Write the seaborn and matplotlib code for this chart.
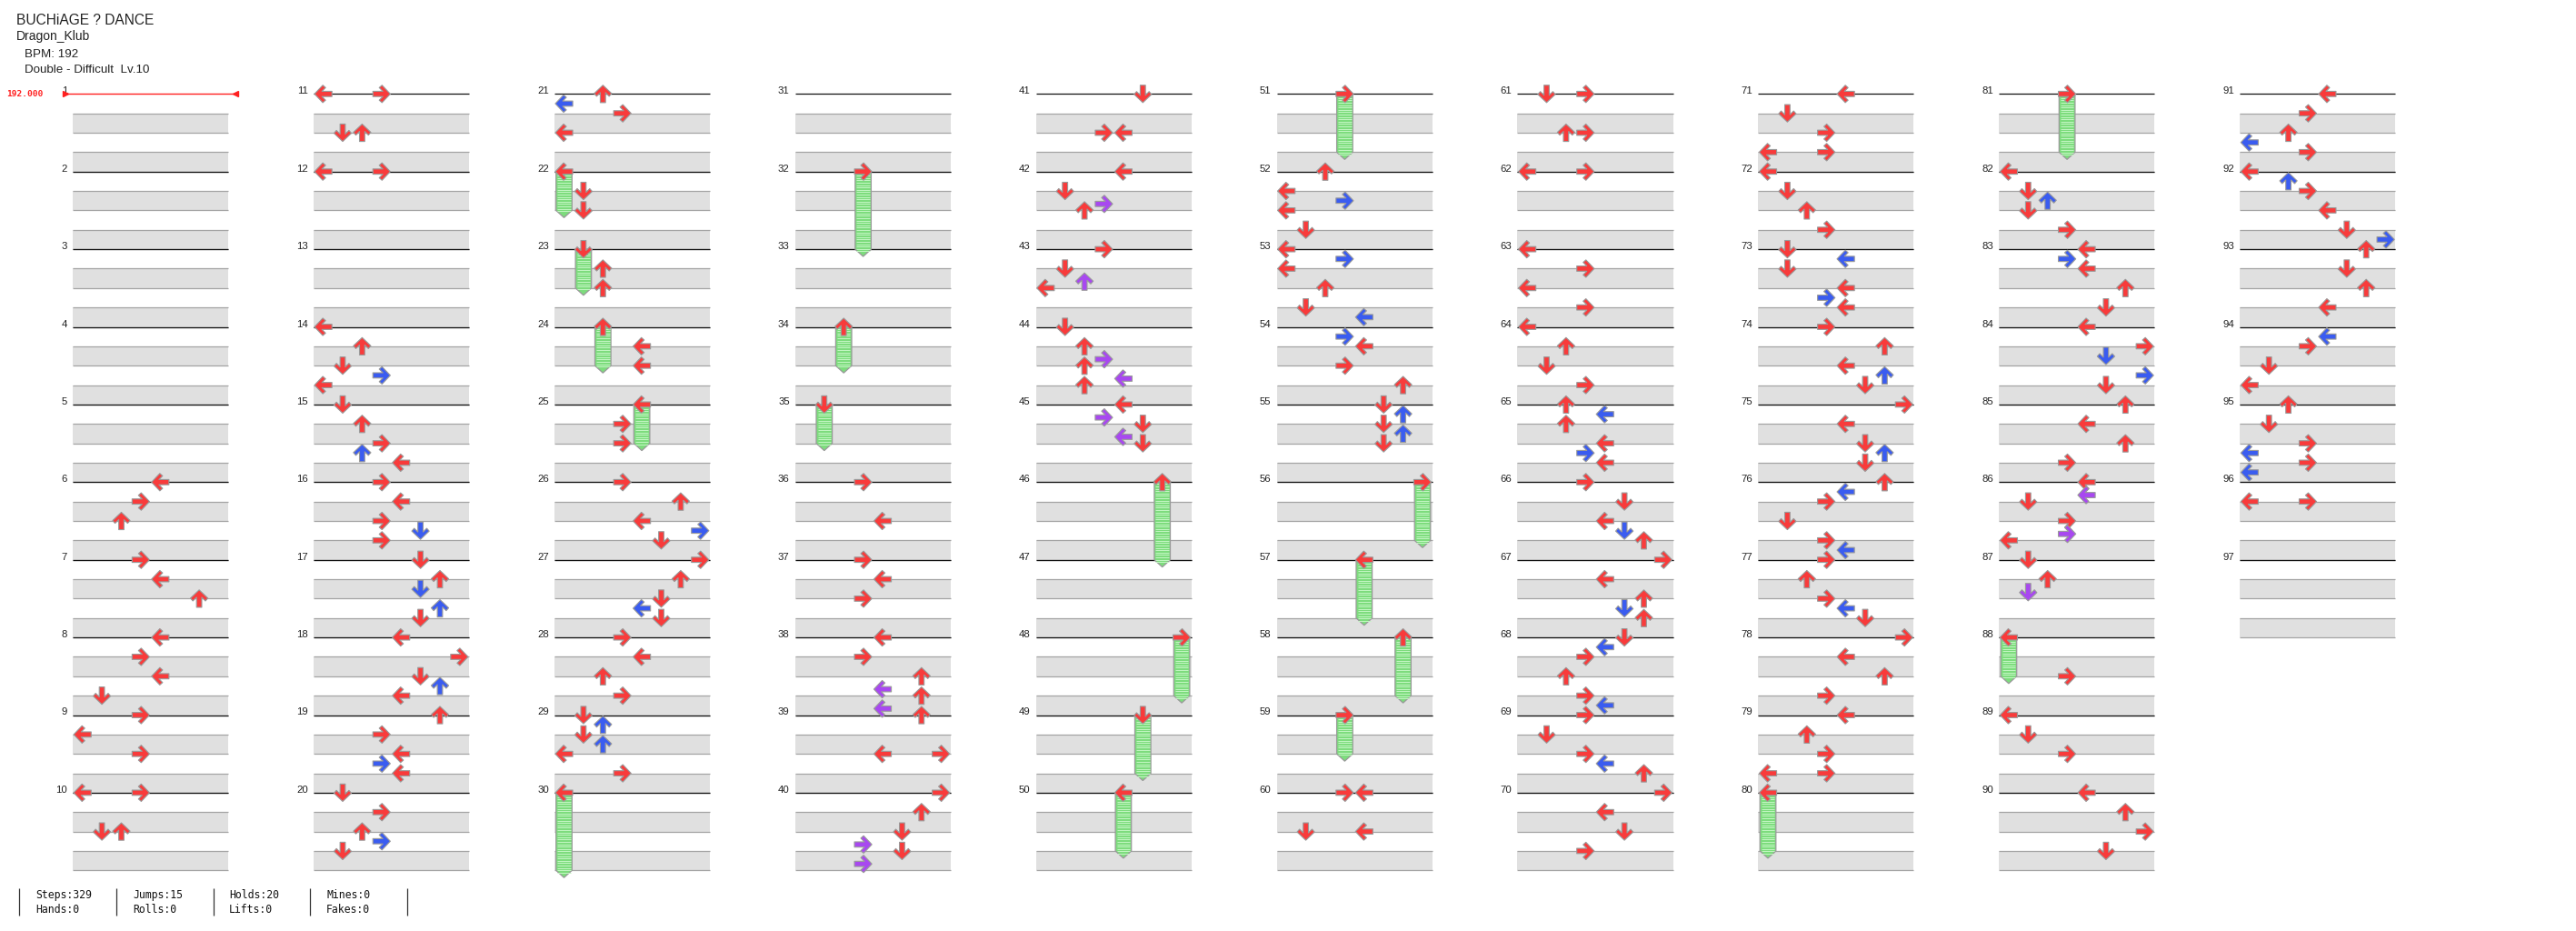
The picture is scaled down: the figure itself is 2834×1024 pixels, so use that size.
import numpy as np
import pandas as pd
import matplotlib
matplotlib.use("Agg")
import matplotlib.pyplot as plt
import seaborn as sns
from matplotlib.path import Path

# header / footer text
song_title = "BUCHiAGE ? DANCE"
song_artist = "Dragon_Klub"
song_bpm = "BPM: 192"
chart_name = "Double - Difficult  Lv.10"
bpm_label = "192.000"
stats_row1 = ["Steps:329", "Jumps:15", "Holds:20", "Mines:0"]
stats_row2 = ["Hands:0", "Rolls:0", "Lifts:0", "Fakes:0"]
n_measures = 97

# lanes 0-7: P1 L D U R, P2 L D U R
lane_dirs = ["L", "D", "U", "R", "L", "D", "U", "R"]

# taps: (measure, beat inside measure, lane)
taps_01_10 = [
    (6, 0, 4), (6, 1, 3), (6, 2, 2),
    (7, 0, 3), (7, 1, 4), (7, 2, 6),
    (8, 0, 4), (8, 1, 3), (8, 2, 4), (8, 3, 1),
    (9, 0, 3), (9, 1, 0), (9, 2, 3),
    (10, 0, 0), (10, 0, 3), (10, 2, 1), (10, 2, 2),
]
taps_11_20 = [
    (11, 0, 0), (11, 0, 3), (11, 2, 1), (11, 2, 2),
    (12, 0, 0), (12, 0, 3),
    (14, 0, 0), (14, 1, 2), (14, 2, 1), (14, 2.5, 3), (14, 3, 0),
    (15, 0, 1), (15, 1, 2), (15, 2, 3), (15, 2.5, 2), (15, 3, 4),
    (16, 0, 3), (16, 1, 4), (16, 2, 3), (16, 2.5, 5), (16, 3, 3),
    (17, 0, 5), (17, 1, 6), (17, 1.5, 5), (17, 2.5, 6), (17, 3, 5),
    (18, 0, 4), (18, 1, 7), (18, 2, 5), (18, 2.5, 6), (18, 3, 4),
    (19, 0, 6), (19, 1, 3), (19, 2, 4), (19, 2.5, 3), (19, 3, 4),
    (20, 0, 1), (20, 1, 3), (20, 2, 2), (20, 2.5, 3), (20, 3, 1),
]
taps_21_30 = [
    (21, 0, 2), (21, 0.5, 0), (21, 1, 3), (21, 2, 0),
    (22, 1, 1), (22, 2, 1),
    (23, 1, 2), (23, 2, 2),
    (24, 1, 4), (24, 2, 4),
    (25, 1, 3), (25, 2, 3),
    (26, 0, 3), (26, 1, 6), (26, 2, 4), (26, 2.5, 7), (26, 3, 5),
    (27, 0, 7), (27, 1, 6), (27, 2, 5), (27, 2.5, 4), (27, 3, 5),
    (28, 0, 3), (28, 1, 4), (28, 2, 2), (28, 3, 3),
    (29, 0, 1), (29, 0.5, 2), (29, 1, 1), (29, 1.5, 2), (29, 2, 0), (29, 3, 3),
]
taps_31_40 = [
    (36, 0, 3), (36, 2, 4),
    (37, 0, 3), (37, 1, 4), (37, 2, 3),
    (38, 0, 4), (38, 1, 3), (38, 2, 6), (38, 2.667, 4), (38, 3, 6), (38, 3.667, 4),
    (39, 0, 6), (39, 2, 4), (39, 2, 7),
    (40, 0, 7), (40, 1, 6), (40, 2, 5), (40, 2.667, 3), (40, 3, 5), (40, 3.667, 3),
]
taps_41_50 = [
    (41, 0, 5), (41, 2, 3), (41, 2, 4),
    (42, 0, 4), (42, 1, 1), (42, 1.667, 3), (42, 2, 2),
    (43, 0, 3), (43, 1, 1), (43, 1.667, 2), (43, 2, 0),
    (44, 0, 1), (44, 1, 2), (44, 1.667, 3), (44, 2, 2), (44, 2.667, 4), (44, 3, 2),
    (45, 0, 4), (45, 0.667, 3), (45, 1, 5), (45, 1.667, 4), (45, 2, 5),
]
taps_51_60 = [
    (52, 0, 2), (52, 1, 0), (52, 1.5, 3), (52, 2, 0), (52, 3, 1),
    (53, 0, 0), (53, 0.5, 3), (53, 1, 0), (53, 2, 2), (53, 3, 1), (53, 3.5, 4),
    (54, 0.5, 3), (54, 1, 4), (54, 2, 3), (54, 3, 6),
    (55, 0, 5), (55, 0.5, 6), (55, 1, 5), (55, 1.5, 6), (55, 2, 5),
    (60, 0, 3), (60, 0, 4), (60, 2, 1), (60, 2, 4),
]
taps_61_70 = [
    (61, 0, 1), (61, 0, 3), (61, 2, 2), (61, 2, 3),
    (62, 0, 0), (62, 0, 3),
    (63, 0, 0), (63, 1, 3), (63, 2, 0), (63, 3, 3),
    (64, 0, 0), (64, 1, 2), (64, 2, 1), (64, 3, 3),
    (65, 0, 2), (65, 0.5, 4), (65, 1, 2), (65, 2, 4), (65, 2.5, 3), (65, 3, 4),
    (66, 0, 3), (66, 1, 5), (66, 2, 4), (66, 2.5, 5), (66, 3, 6),
    (67, 0, 7), (67, 1, 4), (67, 2, 6), (67, 2.5, 5), (67, 3, 6),
    (68, 0, 5), (68, 0.5, 4), (68, 1, 3), (68, 2, 2), (68, 3, 3), (68, 3.5, 4),
    (69, 0, 3), (69, 1, 1), (69, 2, 3), (69, 2.5, 4), (69, 3, 6),
    (70, 0, 7), (70, 1, 4), (70, 2, 5), (70, 3, 3),
]
taps_71_80 = [
    (71, 0, 4), (71, 1, 1), (71, 2, 3), (71, 3, 0), (71, 3, 3),
    (72, 0, 0), (72, 1, 1), (72, 2, 2), (72, 3, 3),
    (73, 0, 1), (73, 0.5, 4), (73, 1, 1), (73, 2, 4), (73, 2.5, 3), (73, 3, 4),
    (74, 0, 3), (74, 1, 6), (74, 2, 4), (74, 2.5, 6), (74, 3, 5),
    (75, 0, 7), (75, 1, 4), (75, 2, 5), (75, 2.5, 6), (75, 3, 5),
    (76, 0, 6), (76, 0.5, 4), (76, 1, 3), (76, 2, 1), (76, 3, 3), (76, 3.5, 4),
    (77, 0, 3), (77, 1, 2), (77, 2, 3), (77, 2.5, 4), (77, 3, 5),
    (78, 0, 7), (78, 1, 4), (78, 2, 6), (78, 3, 3),
    (79, 0, 4), (79, 1, 2), (79, 2, 3), (79, 3, 0), (79, 3, 3),
]
taps_81_90 = [
    (82, 0, 0), (82, 1, 1), (82, 1.5, 2), (82, 2, 1), (82, 3, 3),
    (83, 0, 4), (83, 0.5, 3), (83, 1, 4), (83, 2, 6), (83, 3, 5),
    (84, 0, 4), (84, 1, 7), (84, 1.5, 5), (84, 2.5, 7), (84, 3, 5),
    (85, 0, 6), (85, 1, 4), (85, 2, 6), (85, 3, 3),
    (86, 0, 4), (86, 0.667, 4), (86, 1, 1), (86, 2, 3), (86, 2.667, 3), (86, 3, 0),
    (87, 0, 1), (87, 1, 2), (87, 1.667, 1),
    (88, 2, 3),
    (89, 0, 0), (89, 1, 1), (89, 2, 3),
    (90, 0, 4), (90, 1, 6), (90, 2, 7), (90, 3, 5),
]
taps_91_97 = [
    (91, 0, 4), (91, 1, 3), (91, 2, 2), (91, 2.5, 0), (91, 3, 3),
    (92, 0, 0), (92, 0.5, 2), (92, 1, 3), (92, 2, 4), (92, 3, 5), (92, 3.5, 7),
    (93, 0, 6), (93, 1, 5), (93, 2, 6), (93, 3, 4),
    (94, 0.5, 4), (94, 1, 3), (94, 2, 1), (94, 3, 0),
    (95, 0, 2), (95, 1, 1), (95, 2, 3), (95, 2.5, 0), (95, 3, 3), (95, 3.5, 0),
    (96, 1, 0), (96, 1, 3),
]

# freeze arrows: (measure, beat, lane, length in beats)
holds = [
    (22, 0, 0, 2), (23, 0, 1, 2), (24, 0, 2, 2), (25, 0, 4, 2), (30, 0, 0, 4),
    (32, 0, 3, 4), (34, 0, 2, 2), (35, 0, 1, 2), (46, 0, 6, 4), (48, 0, 7, 3),
    (49, 0, 5, 3), (50, 0, 4, 3), (51, 0, 3, 3), (56, 0, 7, 3), (57, 0, 4, 3),
    (58, 0, 6, 3), (59, 0, 3, 2), (80, 0, 0, 3), (81, 0, 3, 3), (88, 0, 0, 2),
]

# page layout (pixels)
W, H = 2834, 1024
COL_X0, COL_DX = 80, 264.9
LANE_W = 21.4
FIELD_W = 8 * LANE_W
TOP, MEAS_H = 103.3, 85.4
BEAT_H = MEAS_H / 4
PER_COL = 10

quant_colors = {"4th": "#f83b3b", "8th": "#3a5cf0", "12th": "#a848f0", "16th": "#e8c020"}


def quantize(beat):
    k = int(round(beat * 12)) % 12
    if k == 0:
        return "4th"
    if k == 6:
        return "8th"
    if k in (4, 8):
        return "12th"
    return "16th"


def to_xy(measure, beat, lane):
    measure = np.asarray(measure)
    c = (measure - 1) // PER_COL
    r = (measure - 1) % PER_COL
    x = COL_X0 + c * COL_DX + (np.asarray(lane) + 0.5) * LANE_W
    y = TOP + r * MEAS_H + np.asarray(beat) * BEAT_H
    return x, y


# arrow marker shapes
up = np.array([(0, 1), (1, 0.05), (0.72, -0.27), (0.3, 0.15), (0.3, -1),
               (-0.3, -1), (-0.3, 0.15), (-0.72, -0.27), (-1, 0.05), (0, 1)])
codes = [Path.MOVETO] + [Path.LINETO] * (len(up) - 2) + [Path.CLOSEPOLY]
arrow_markers = {
    "U": Path(up, codes),
    "D": Path(np.column_stack([up[:, 0], -up[:, 1]]), codes),
    "L": Path(np.column_stack([-up[:, 1], up[:, 0]]), codes),
    "R": Path(np.column_stack([up[:, 1], -up[:, 0]]), codes),
}

# note table
all_taps = (taps_01_10 + taps_11_20 + taps_21_30 + taps_31_40 + taps_41_50
            + taps_51_60 + taps_61_70 + taps_71_80 + taps_81_90 + taps_91_97)
notes = pd.DataFrame(all_taps, columns=["measure", "beat", "lane"])
hold_df = pd.DataFrame(holds, columns=["measure", "beat", "lane", "length"])
notes = pd.concat([notes, hold_df[["measure", "beat", "lane"]]], ignore_index=True)
notes["x"], notes["y"] = to_xy(notes["measure"], notes["beat"], notes["lane"])
notes["dir"] = [lane_dirs[l] for l in notes["lane"]]
notes["quant"] = [quantize(b) for b in notes["beat"]]

plt.rcParams["font.family"] = ["Liberation Sans", "DejaVu Sans"]
fig = plt.figure(figsize=(W / 100, H / 100), dpi=100)
ax = fig.add_axes([0, 0, 1, 1])

# measure grid
meas = np.arange(1, n_measures + 1)
col = (meas - 1) // PER_COL
row = (meas - 1) % PER_COL
x0 = COL_X0 + col * COL_DX
ytop = TOP + row * MEAS_H
for b in (1, 3):
    ax.barh(ytop + (b + 0.5) * BEAT_H, FIELD_W, height=BEAT_H, left=x0,
            color="#e0e0e0", edgecolor="none", zorder=1)
    ax.hlines(ytop + b * BEAT_H, x0, x0 + FIELD_W, color="#a4a4a4", lw=0.9, zorder=2)
    ax.hlines(ytop + (b + 1) * BEAT_H, x0, x0 + FIELD_W, color="#a4a4a4", lw=0.9, zorder=2)
ax.hlines(ytop[1:], x0[1:], x0[1:] + FIELD_W, color="#111111", lw=0.9, zorder=2.5)
for m, xx, yy in zip(meas, x0, ytop):
    ax.text(xx - 6, yy, str(m), ha="right", va="baseline", fontsize=8.2, color="#222222")

# BPM change marker on measure 1
ax.hlines(TOP, COL_X0 - 8, COL_X0 + FIELD_W + 8, color="#ff2020", lw=1.0, zorder=3)
ax.plot([COL_X0 - 8], [TOP], marker=">", ms=4.5, color="#ff2020", zorder=3)
ax.plot([COL_X0 + FIELD_W + 8], [TOP], marker="<", ms=4.5, color="#ff2020", zorder=3)
ax.text(COL_X0 - 33, TOP + 0.5, bpm_label, ha="right", va="center", fontsize=6.8,
        family="DejaVu Sans Mono", weight="bold", color="#ff2020")

# freeze arrow bodies
hx, hy = to_xy(hold_df["measure"], hold_df["beat"], hold_df["lane"])
hw, tip = 8.8, 8
for xx, yy, ln in zip(hx, hy, hold_df["length"]):
    y1 = yy + ln * BEAT_H
    ax.fill([xx - hw, xx + hw, xx + hw, xx, xx - hw], [yy, yy, y1, y1 + tip, y1],
            facecolor="#7ddc7d", edgecolor="#9a9a9a", lw=0.9, zorder=3)
    stripes = np.arange(yy + 2, y1 + 3, 2.6)
    ax.hlines(stripes, xx - hw + 1.5, xx + hw - 1.5, color="#c4f6c4", lw=0.7, zorder=3.2)

# arrows
sns.scatterplot(data=notes, x="x", y="y", hue="quant", style="dir",
                palette=quant_colors, markers=arrow_markers, s=190,
                edgecolor="#9a9a9a", linewidth=0.8, legend=False, ax=ax, zorder=5)

# header
ax.text(18, 26.7, song_title, fontsize=11.2, color="#222222", va="baseline")
ax.text(18, 44.3, song_artist, fontsize=10, color="#222222", va="baseline")
ax.text(26.7, 62.7, song_bpm, fontsize=9.6, color="#222222", va="baseline")
ax.text(26.7, 80, chart_name, fontsize=9.6, color="#222222", va="baseline")

# footer stats
stat_x = [39, 146, 252, 359]
bar_x = [21, 128, 235, 341, 448]
for sx, t1, t2 in zip(stat_x, stats_row1, stats_row2):
    ax.text(sx, 987.7, t1, fontsize=8.3, family="DejaVu Sans Mono", va="baseline", color="#111111")
    ax.text(sx, 1004, t2, fontsize=8.3, family="DejaVu Sans Mono", va="baseline", color="#111111")
ax.vlines(bar_x, 976.7, 1006.7, color="#333333", lw=0.9)

ax.set_xlim(0, W)
ax.set_ylim(H, 0)
ax.axis("off")
fig.savefig("out.png", dpi=100, facecolor="white")
